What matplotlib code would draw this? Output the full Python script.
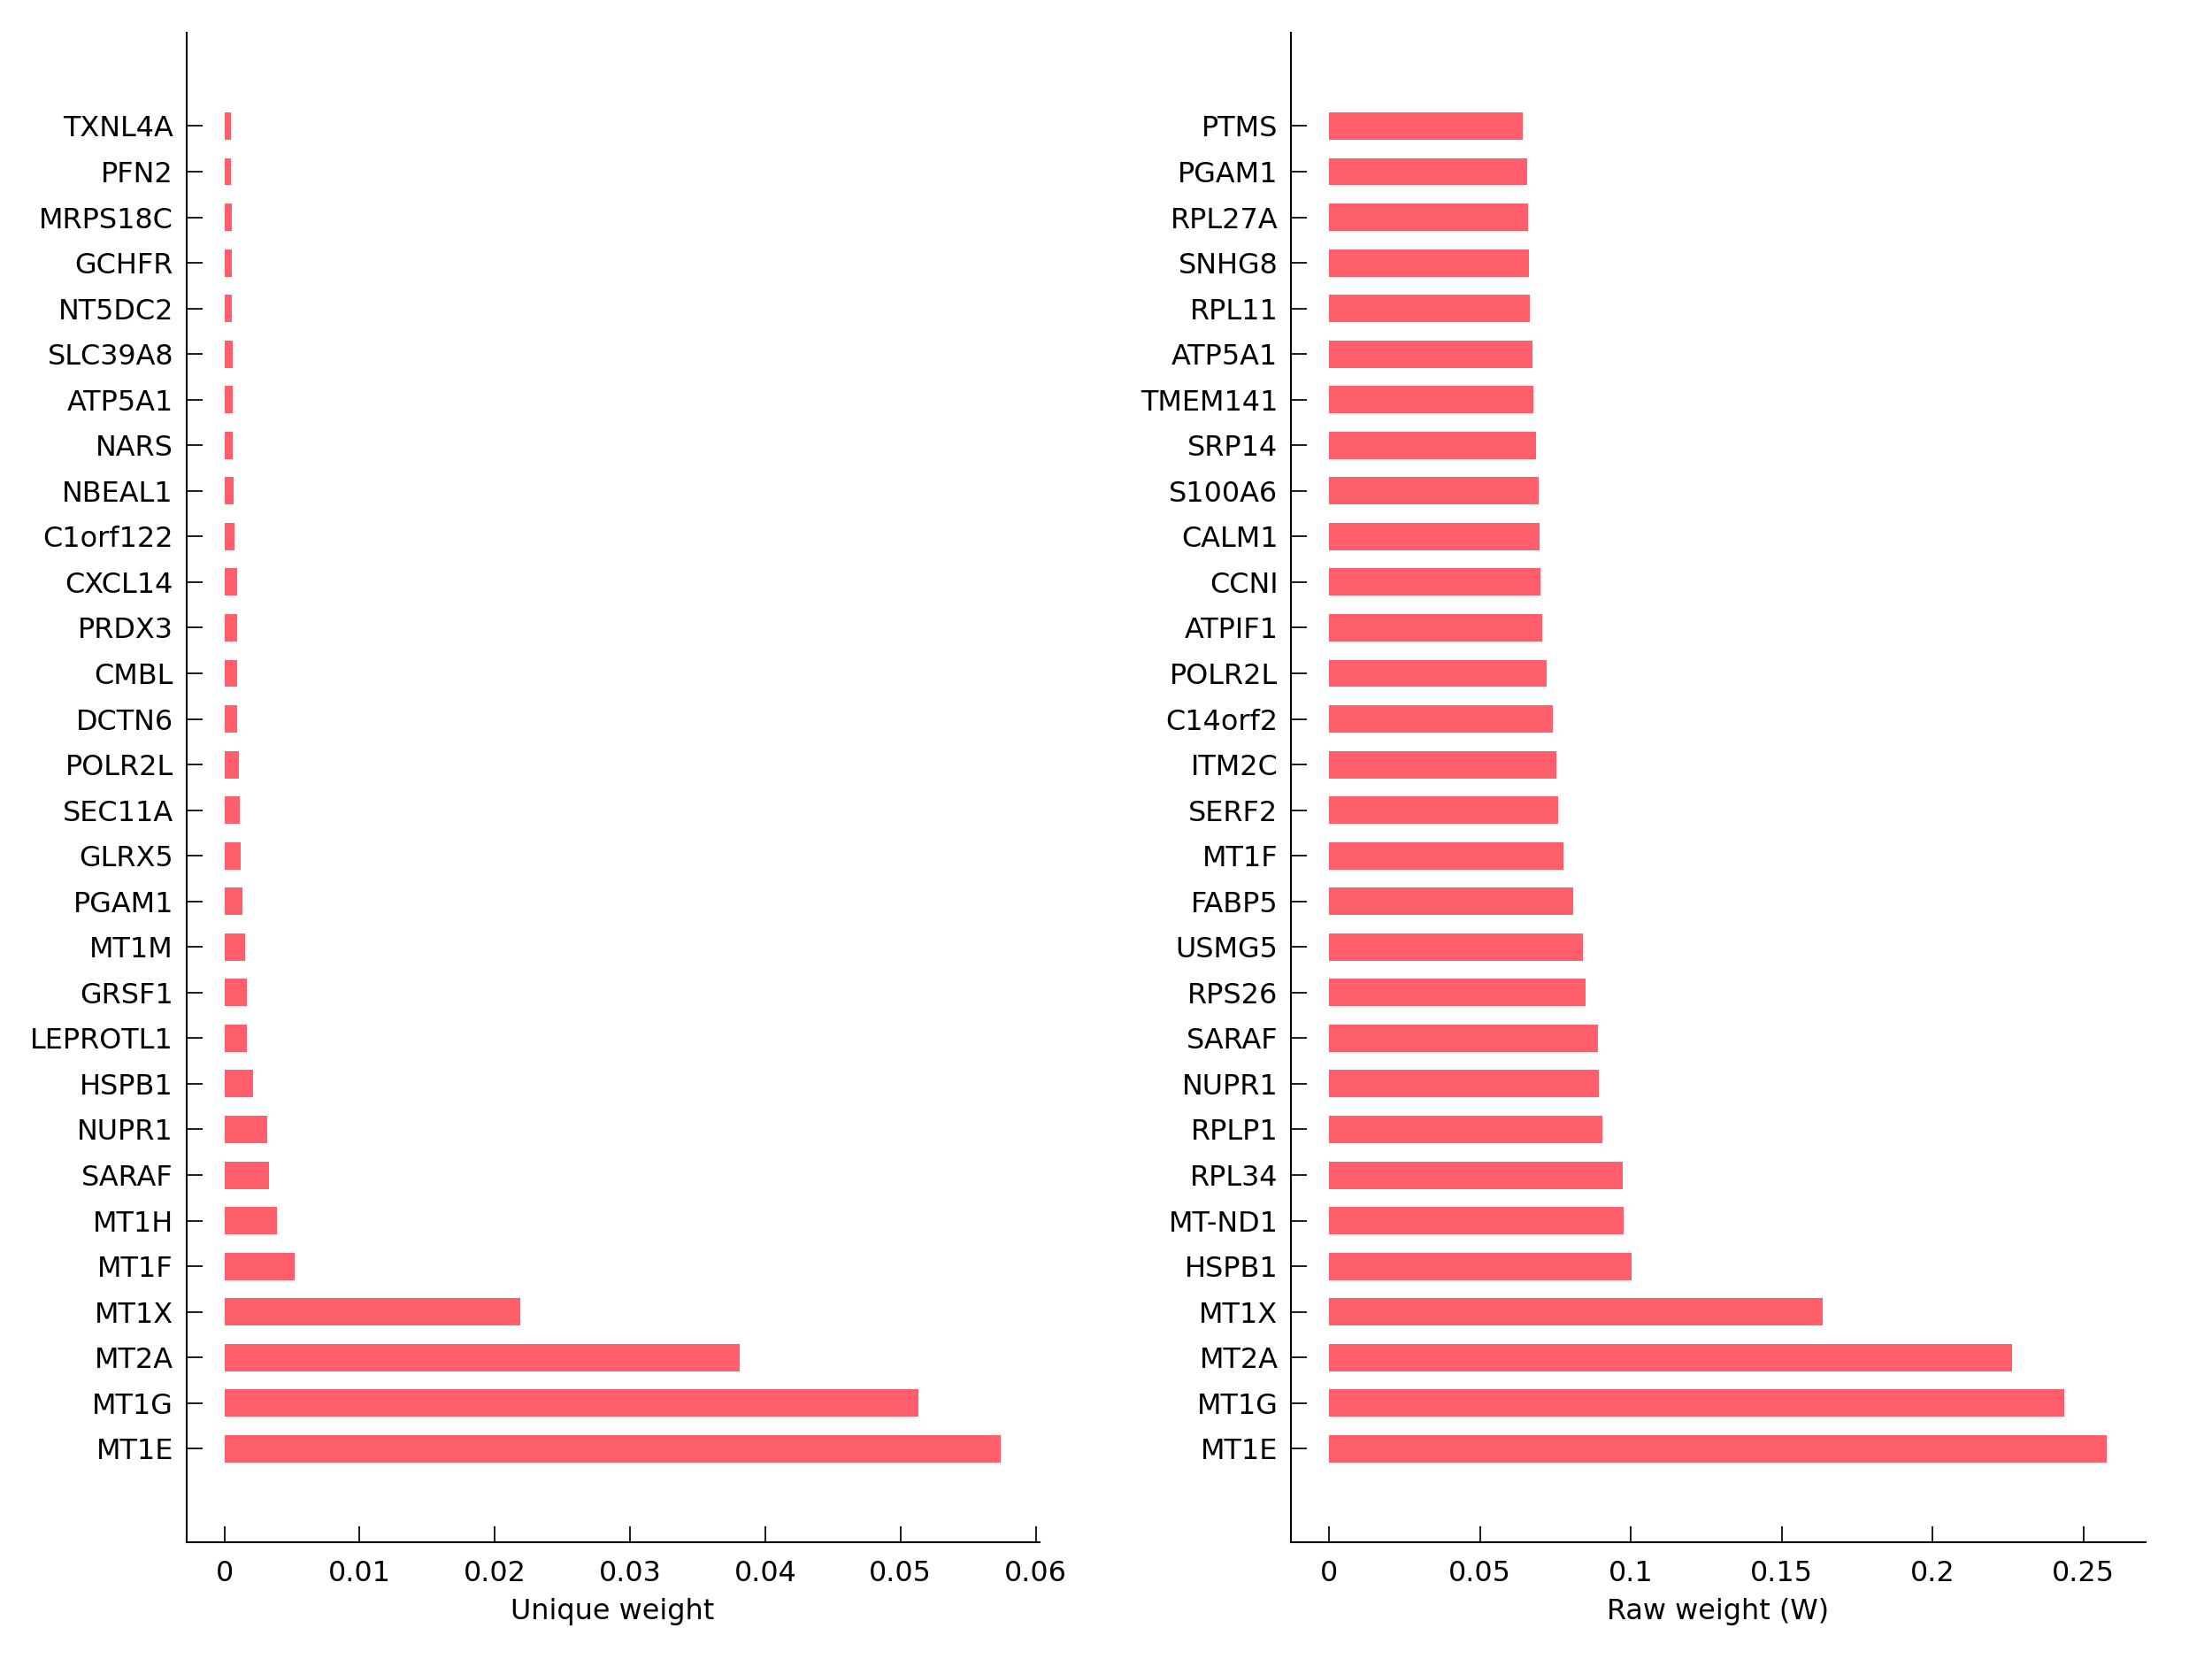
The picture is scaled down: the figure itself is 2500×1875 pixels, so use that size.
import matplotlib
matplotlib.use("Agg")
import matplotlib.pyplot as plt

BAR_COLOR = "#ff5e6a"
FONT_SIZE = 9.2

# top to bottom as in the picture
UNIQUE_GENES = ["TXNL4A", "PFN2", "MRPS18C", "GCHFR", "NT5DC2", "SLC39A8", "ATP5A1",
                "NARS", "NBEAL1", "C1orf122", "CXCL14", "PRDX3", "CMBL", "DCTN6",
                "POLR2L", "SEC11A", "GLRX5", "PGAM1", "MT1M", "GRSF1", "LEPROTL1",
                "HSPB1", "NUPR1", "SARAF", "MT1H", "MT1F", "MT1X", "MT2A", "MT1G", "MT1E"]
UNIQUE_VALUES = [0.00048, 0.00050, 0.00052, 0.00055, 0.00055, 0.00059, 0.00061,
                 0.00063, 0.00065, 0.00074, 0.00092, 0.00094, 0.00096, 0.00096,
                 0.00109, 0.00111, 0.00118, 0.00133, 0.00151, 0.00164, 0.00164,
                 0.00209, 0.00319, 0.00327, 0.00391, 0.00522, 0.0219, 0.0381, 0.0513, 0.0574]

RAW_GENES = ["PTMS", "PGAM1", "RPL27A", "SNHG8", "RPL11", "ATP5A1", "TMEM141",
             "SRP14", "S100A6", "CALM1", "CCNI", "ATPIF1", "POLR2L", "C14orf2",
             "ITM2C", "SERF2", "MT1F", "FABP5", "USMG5", "RPS26", "SARAF", "NUPR1",
             "RPLP1", "RPL34", "MT-ND1", "HSPB1", "MT1X", "MT2A", "MT1G", "MT1E"]
RAW_VALUES = [0.0643, 0.0657, 0.0660, 0.0662, 0.0665, 0.0675, 0.0678,
              0.0685, 0.0696, 0.0698, 0.0702, 0.0706, 0.0722, 0.0741,
              0.0753, 0.0759, 0.0777, 0.0810, 0.0841, 0.0850, 0.0891, 0.0894,
              0.0907, 0.0974, 0.0977, 0.1003, 0.1635, 0.2264, 0.2437, 0.2577]

UNIQUE_TICKS = [0, 0.01, 0.02, 0.03, 0.04, 0.05, 0.06]
UNIQUE_TICK_LABELS = ["0", "0.01", "0.02", "0.03", "0.04", "0.05", "0.06"]
RAW_TICKS = [0, 0.05, 0.1, 0.15, 0.2, 0.25]
RAW_TICK_LABELS = ["0", "0.05", "0.1", "0.15", "0.2", "0.25"]

plt.rcParams["font.family"] = ["DejaVu Sans"]
plt.rcParams["font.size"] = FONT_SIZE


def draw_panel(axes, genes, values, ticks, tick_labels, xlim, xlabel):
    n = len(genes)
    positions = list(range(n, 0, -1))
    axes.barh(positions, values, height=0.6, color=BAR_COLOR, edgecolor="none")
    axes.set_ylim(-1.05, n + 2.05)
    axes.set_xlim(*xlim)
    axes.set_yticks(positions)
    axes.set_yticklabels(genes)
    axes.set_xticks(ticks)
    axes.set_xticklabels(tick_labels)
    axes.set_xlabel(xlabel, labelpad=3.5)
    axes.spines["top"].set_visible(False)
    axes.spines["right"].set_visible(False)
    for side in ["left", "bottom"]:
        axes.spines[side].set_linewidth(0.6)
    axes.tick_params(axis="both", direction="in", length=5.2, width=0.5,
                     labelsize=FONT_SIZE, colors="black")
    axes.tick_params(axis="y", pad=4.2)
    axes.tick_params(axis="x", pad=5.8)


figure = plt.figure(figsize=(10, 7.5), dpi=250)
left = figure.add_axes([0.0842, 0.0704, 0.3856, 0.910])
right = figure.add_axes([0.5836, 0.0704, 0.3863, 0.910])

draw_panel(left, UNIQUE_GENES, UNIQUE_VALUES, UNIQUE_TICKS, UNIQUE_TICK_LABELS,
           (-0.00282, 0.06026), "Unique weight")
draw_panel(right, RAW_GENES, RAW_VALUES, RAW_TICKS, RAW_TICK_LABELS,
           (-0.01264, 0.2706), "Raw weight (W)")

figure.savefig("out.png", dpi=250)
